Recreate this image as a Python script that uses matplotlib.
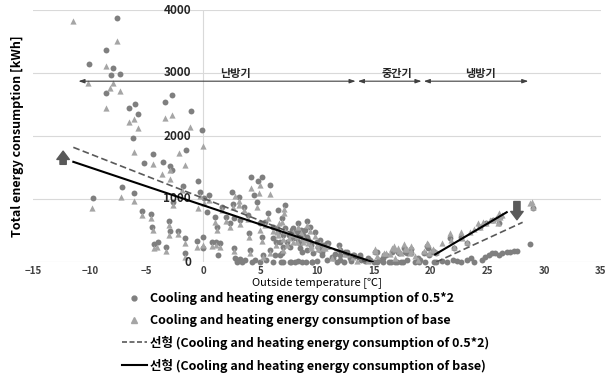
import numpy as np
import matplotlib
matplotlib.use('Agg')
import matplotlib.pyplot as plt
from matplotlib.lines import Line2D

plt.rcParams['font.family'] = ['Noto Sans CJK KR', 'DejaVu Sans']

# scatter: cooling and heating energy consumption of 0.5*2 (circles)
c_x = [-7.6, -8.6, -10.1, -8.0, -8.1, -7.3, -8.6, -6.55, -6.05, -5.8, -6.2, -3.35, -2.75, -1.1,
       -0.1, -4.4, -1.55, -5.2, -3.55, -2.8, -2.9, -0.5, -1.8, -7.2, -6.1, -9.7, -2.65, -5.4,
       -4.65, -3.05, -4.5, -2.95, -2.2, -4.0, -4.35, -3.3, -1.6, -0.55, -1.6, 0.0, 0.3, -0.3,
       0.05, 0.5,
       2.55, 3.13, 4.2, 4.85, 5.15, 5.9, 4.45, 7.15, 6.6, 2.6, 1.0, 1.2, 2.0, 2.35, 2.65, 3.2,
       3.95, 4.05, 4.95, 5.15, 5.65, 0.75, 1.1, 1.5, 0.0, 1.3, 2.65, 2.8, 2.95, 3.2, 3.7, 4.1,
       4.55, 5.25, 5.55, 5.85, 6.4, 6.75, 7.05, 7.35, 7.55, 7.9, 8.2, 8.5, 8.65, 8.8, 9.1, 9.15,
       9.5, 9.8, 10.1, 10.25, 10.4, 10.7, 11.0, 7.75, 9.0, 6.1, 8.3, 9.6, 10.0, 6.6, 6.1, 5.4,
       3.6, 1.6, 4.7, 8.3, 7.2, 6.9, 8.6, 9.4,
       7.77, 8.2, 8.65, 8.94, 7.9, 8.35, 8.8, 9.23, 7.6, 8.5, 9.1, 9.5, 9.67, 10.26, 10.4, 9.97,
       10.55, 7.03, 6.74, 6.9, 6.3, 6.45, 6.15, 11.3, 12.0, 12.6, 13.3, 13.8, 14.5, 15.25, 7.0,
       7.6, 8.1, 8.7, 9.6, 11.8, 12.4, 3.0, 3.4, 4.3, 5.0, 6.8,
       10.85, 11.95, 12.0, 12.45, 11.4, 13.2, 13.8, 13.9, 14.7, 15.1, 15.5, 16.1, 16.6, 16.8,
       17.1, 17.7, 17.9, 18.3, 17.9, 19.1, 19.4, 19.7, 19.9, 12.0, 13.0, 14.2, 15.0, 16.3, 16.9,
       17.4, 18.6, 10.9, 11.6, 12.9, 15.8, 18.9, 15.9, 17.2, 17.75, 18.25, 19.8, 20.2, 15.3,
       15.8, 16.5, 17.0, 17.6, 19.0, 19.5, 20.3,
       20.5, 21.4, 22.0, 22.7, 23.2, 23.6, 23.8, 24.5, 24.8, 25.1, 25.4, 25.7, 26.0, 26.3, 26.7,
       27.0, 27.3, 27.6, 28.75, 21.0, 22.3, 20.2, 20.5, 21.7, 22.1, 22.7, 23.2, 24.35, 24.9,
       25.5, 26.0, 26.1, 29.0]
c_y = [3870, 3360, 3150, 3075, 2975, 2985, 2690, 2440, 2510, 2355, 1975, 2545, 2650, 2390,
       2090, 1715, 1770, 1575, 1585, 1460, 1530, 1280, 1210, 1195, 1100, 1020, 960, 810,
       760, 655, 560, 495, 495, 320, 280, 245, 375, 335, 140, 400, 800, 1115,
       1010, 1060,
       1110, 1035, 1345, 1280, 1355, 1215, 1065, 905, 830, 925, 720, 560, 720, 615, 695, 665,
       745, 465, 615, 400, 775, 320, 320, 300, 215, 110, 215, 60, 30, 45, 30, 190,
       30, 110, 30, 190, 320, 110, 235, 320, 430, 535, 375, 300, 165, 430, 655, 400,
       300, 480, 245, 350, 165, 270, 300, 5, 5, 5, 10, 5, 10, 480, 560, 640,
       880, 880, 950, 620, 545, 700, 510, 560,
       508, 481, 481, 508, 376, 322, 376, 349, 243, 217, 190, 270, 138, 190, 111, 322,
       270, 429, 322, 138, 111, 535, 376, 85, 111, 164, 111, 85, 58, 164, 5,
       5, 5, 5, 5, 5, 5, 5, 5, 5, 5, 5,
       305, 270, 190, 165, 60, 110, 110, 30, 30, 165, 30, 110, 165, 190,
       165, 215, 150, 140, 30, 30, 140, 255, 110, 30, 10, 10, 5, 5, 5,
       5, 5, 30, 120, 60, 60, 60, 110, 140, 160, 200, 230, 170, 5,
       5, 5, 5, 5, 5, 5, 5,
       5, 5, 30, 5, 30, 60, 5, 30, 85, 110, 140, 150, 110, 140, 165,
       165, 175, 175, 285, 10, 10, 165, 140, 380, 215, 400, 300, 560, 615,
       665, 615, 720, 850]

# scatter: cooling and heating energy consumption of base (triangles)
t_x = [-11.45, -7.6, -8.6, -10.15, -8.0, -8.2, -7.35, -8.55, -6.1, -6.55, -5.8, -3.35, -2.75,
       -1.15, -0.05, -6.15, -2.15, -4.45, -1.6, -3.65, -2.9, -1.85, -7.25, -6.1, -9.8, -2.65,
       -5.4, -4.65, -3.05, -4.45, -3.0, -2.2, -4.1, -4.35, -3.3, -1.6, -0.55, -1.6, 0.0, -0.45,
       -0.3, 0.05, -2.9,
       0.5, 2.8, 3.15, 4.2, 5.0, 4.9, 5.9, 7.1, 7.1, 6.65, 2.6, 3.15, 1.0, 1.2, 2.0, 2.35, 3.2,
       3.95, 4.05, 4.95, 5.15, 5.65, 0.75, 1.1, 1.5, 2.65, 4.1, 5.25, 5.85, 6.4, 7.05, 7.35,
       7.55, 7.9, 8.2, 8.8, 9.1, 9.15, 9.5, 9.8, 10.1, 10.25, 10.7, 11.0, 6.6, 6.1, 5.4, 3.6,
       1.6, 4.7, 8.3, 7.2, 6.9, 8.6, 9.4,
       7.77, 8.2, 8.65, 7.9, 8.8, 9.23, 9.5, 9.97, 10.55, 7.03, 6.45, 11.3, 12.6,
       10.85, 11.95, 12.45, 13.2, 15.1, 16.1, 16.6, 16.8, 17.1, 17.7, 17.9, 18.3, 19.4, 19.7,
       15.3, 16.4, 17.4, 18.6, 19.9, 16.9, 14.5, 13.5, 18.9, 15.9, 17.2, 17.75, 18.25, 18.2,
       19.8, 20.2, 16.9, 15.1,
       20.2, 20.5, 21.7, 21.8, 22.1, 22.7, 22.8, 23.2, 23.5, 24.2, 24.35, 24.6, 24.9, 25.2,
       25.5, 25.8, 25.95, 26.1, 26.0, 28.75, 29.0, 28.9, 21.0, 23.8, 26.3]
t_y = [3830, 3515, 3110, 2845, 2835, 2755, 2720, 2450, 2275, 2220, 2125, 2290, 2340,
       2145, 1845, 1745, 1725, 1550, 1545, 1390, 1315, 1145, 1035, 965, 855, 900,
       745, 700, 585, 510, 430, 450, 245, 215, 180, 295, 245, 85, 270, 860,
       1050, 940, 1460,
       990, 1040, 970, 1175, 1215, 1090, 1080, 835, 770, 620, 870, 910, 640, 510, 650, 560, 600,
       690, 390, 510, 340, 700, 260, 270, 240, 170, 140, 80, 140, 270, 190, 270,
       380, 480, 320, 380, 585, 350, 250, 420, 200, 300, 220, 250, 430, 500, 580, 820,
       820, 880, 560, 490, 640, 460, 500,
       440, 420, 430, 320, 320, 300, 220, 270, 230, 370, 470, 60, 130,
       260, 230, 130, 80, 200, 150, 230, 260, 230, 290, 200, 180, 180, 300,
       100, 120, 150, 100, 150, 60, 10, 20, 30, 150, 175, 200, 250, 150,
       280, 200, 200, 180,
       190, 160, 455, 350, 240, 480, 380, 320, 480, 615, 560, 640, 615, 665,
       665, 695, 615, 720, 770, 930, 880, 960, 300, 520, 750]

# linear trend lines (end points)
heat_x = [-11.45, 14.9]
heat_base = [1590, 0]
heat05_x = [-11.45, 14.3]
heat05 = [1820, 0]
cool_x = [20.4, 26.7]
cool_base = [120, 790]
cool05_x = [20.5, 28.1]
cool05 = [0, 630]

# season spans
seasons = ['난방기', '중간기', '냉방기']
season_start = [-11.0, 13.6, 19.4]
season_end = [13.4, 19.2, 28.6]
season_label_x = [2.8, 17.0, 24.4]

circle_col = '#7f7f7f'
tri_col = '#a5a5a5'

fig = plt.figure(figsize=(6.11, 3.74), dpi=100)
ax = fig.add_axes([33 / 611, 1 - 262 / 374, 568 / 611, 252 / 374])
ax.set_xlim(-15, 35)
ax.set_ylim(0, 4000)

for v in [0, 1000, 2000, 3000, 4000]:
    ax.axhline(v, color='#d9d9d9', lw=0.8, zorder=0)
ax.axvline(0, color='#d9d9d9', lw=0.8, zorder=0)
for s in ax.spines.values():
    s.set_visible(False)

ax.scatter(c_x, c_y, s=18, marker='o', color=circle_col, lw=0, clip_on=False, zorder=2)
ax.scatter(t_x, t_y, s=20, marker='^', color=tri_col, lw=0, clip_on=False, zorder=3)

ax.plot(heat05_x, heat05, color='#595959', ls=(0, (4, 2)), lw=1.2, zorder=4)
ax.plot(cool05_x, cool05, color='#595959', ls=(0, (4, 2)), lw=1.2, zorder=4)
ax.plot(heat_x, heat_base, color='black', lw=1.5, zorder=5)
ax.plot(cool_x, cool_base, color='black', lw=1.5, zorder=5)

ax.set_xticks(range(-15, 36, 5))
ax.tick_params(axis='x', length=0, pad=3, labelsize=7, labelcolor='#404040')
for lab in ax.get_xticklabels():
    lab.set_fontweight('bold')
ax.set_yticks([])
for v in [0, 1000, 2000, 3000, 4000]:
    ax.text(-1.1, v, str(v), ha='right', va='center', fontsize=8.5,
            fontweight='bold', color='#262626')

# season arrows
for name, x0, x1, xl in zip(seasons, season_start, season_end, season_label_x):
    ax.annotate('', xy=(x0, 2870), xytext=(x1, 2870),
                arrowprops=dict(arrowstyle='<|-|>,head_length=0.35,head_width=0.12',
                                color='#404040', lw=0.8, shrinkA=0, shrinkB=0))
    ax.text(xl, 2990, name, ha='center', va='center', fontsize=8, fontweight='bold',
            color='#262626')

# block arrows
block = dict(arrowstyle='simple,head_width=0.9,head_length=0.6,tail_width=0.45',
             color='#595959', mutation_scale=10, shrinkA=0, shrinkB=0)
ax.annotate('', xy=(-12.35, 1760), xytext=(-12.35, 1550), arrowprops=block)
ax.annotate('', xy=(27.6, 670), xytext=(27.6, 960), arrowprops=block)

ax.set_xlabel('Outside temperature [℃]', fontsize=8, labelpad=1)
fig.text(18 / 611, 1 - 136 / 374, 'Total energy consumption [kWh]', rotation=90,
         ha='center', va='center', fontsize=9, fontweight='bold')

handles = [
    Line2D([], [], marker='o', ls='none', color=circle_col, markersize=3.5),
    Line2D([], [], marker='^', ls='none', color=tri_col, markersize=4),
    Line2D([], [], color='#595959', ls=(0, (3, 1.5)), lw=1.2),
    Line2D([], [], color='black', lw=1.5),
]
labels = [
    'Cooling and heating energy consumption of 0.5*2',
    'Cooling and heating energy consumption of base',
    '선형 (Cooling and heating energy consumption of 0.5*2)',
    '선형 (Cooling and heating energy consumption of base)',
]
fig.legend(handles, labels, loc='upper center', bbox_to_anchor=(0.5, 1 - 286 / 374),
           frameon=False, prop={'size': 9, 'weight': 'bold'}, handlelength=2.0,
           handletextpad=0.3, labelspacing=0.7, borderpad=0)

fig.savefig('out.png', dpi=100)
